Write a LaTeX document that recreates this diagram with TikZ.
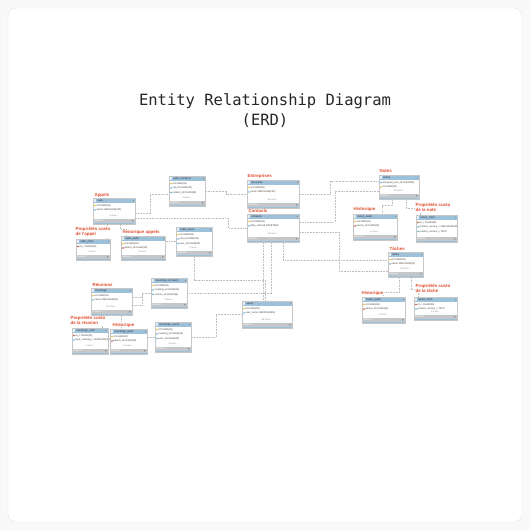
\documentclass[tikz,border=0pt]{standalone}
\usepackage{fontspec}
\setmainfont{Liberation Sans}
\newfontfamily\titlefont{DejaVu Sans Mono}
\definecolor{headblue}{RGB}{157,192,219}
\definecolor{footgray}{RGB}{196,199,202}
\definecolor{labelred}{RGB}{226,76,44}
\definecolor{keyc}{RGB}{238,190,40}
\definecolor{fkc}{RGB}{210,64,48}
\definecolor{colc}{RGB}{90,175,215}
\tikzset{
  tablebox/.style={fill=white, inner sep=0pt, outer sep=0pt},
  tabletitle/.style={font=\fontsize{2.8}{3}\selectfont, text=black!80, inner sep=0pt},
  fieldtext/.style={font=\fontsize{2.5}{3}\selectfont, text=black!75, inner sep=0pt},
  moretext/.style={font=\fontsize{2.3}{3}\selectfont, text=black!45, inner sep=0pt},
  tlabel/.style={font=\bfseries\fontsize{4.4}{5}\selectfont, text=labelred, fill=white, inner sep=0.4pt, align=left},
  rel/.style={draw=gray!50, dash pattern=on 1.8pt off 1pt, line width=0.5pt}
}
% #1 node name, #2 top left, #3 width, #4 height, #5 title, #6 rows, #7 more
\newcommand{\erdtable}[7]{%
  \begin{scope}[shift={(#2)}]
    \node[tablebox, minimum width=#3pt, minimum height=#4pt, anchor=north west] (#1) at (0,0) {};
    \fill[headblue] (0,0) rectangle (#3,5);
    \fill[white!70!headblue] (1,1.3) rectangle (3.4,3.7);
    \fill[black!45] (#3-2.4,2) rectangle (#3-1.2,3);
    \node[tabletitle, anchor=west] at (4.2,2.5) {#5};
    \foreach \ic/\txt [count=\i] in {#6} {
      \pgfmathsetmacro{\ry}{5+4.5*\i-2}
      \fill[\ic] (2,\ry-0.9) -- (2.9,\ry) -- (2,\ry+0.9) -- (1.1,\ry) -- cycle;
      \node[fieldtext, anchor=west] at (3.4,\ry) {\txt};
    }
    \node[moretext] at (#3/2,#4-8) {#7};
    \fill[footgray] (0,#4-5.5) rectangle (#3,#4-0.8);
    \fill[headblue] (0,#4-0.8) rectangle (#3,#4);
    \node[fieldtext, text=white, anchor=west] at (1.2,#4-3.2) {Indexes};
    \fill[black!55] (#3-2.6,#4-4) -- (#3-1.3,#4-3.2) -- (#3-2.6,#4-2.4) -- cycle;
    \draw[black!22, line width=0.3pt] (0,0) rectangle (#3,#4);
  \end{scope}
}

\begin{document}
\begin{tikzpicture}[x=1pt, y=-1pt]
  \useasboundingbox (0,0) rectangle (530,530);
  \fill[gray!5] (0,0) rectangle (530,530);
  \filldraw[fill=white, draw=gray!22, rounded corners=8] (8,8) rectangle (522,522);

  \node[align=center, font=\titlefont\fontsize{15.5}{20}\selectfont, text=black!85] (title) at (265,111)
    {Entity Relationship Diagram\\(ERD)};

  \erdtable{callscontacts}{169,176}{36}{30}{calls\_contacts}
    {keyc/id CHAR(36), colc/call\_id CHAR(36), colc/contact\_id CHAR(36)}{3 more...}
  \erdtable{calls}{93,198}{42}{26}{calls}
    {keyc/id CHAR(36), colc/name VARCHAR(255)}{3 more...}
  \erdtable{callscstm}{76,239}{34}{21}{calls\_cstm}
    {fkc/id\_c CHAR(36)}{1 more...}
  \erdtable{callsaudit}{121,236}{44}{24}{calls\_audit}
    {keyc/id CHAR(36), fkc/parent\_id CHAR(36)}{8 more...}
  \erdtable{callsusers}{176,227}{36}{29}{calls\_users}
    {keyc/id CHAR(36), colc/call\_id CHAR(36), colc/user\_id CHAR(36)}{3 more...}
  \erdtable{accounts}{247,180}{52}{28}{accounts}
    {keyc/id CHAR(36), colc/name VARCHAR(150)}{56 more...}
  \erdtable{contacts}{247,214}{52}{28}{contacts}
    {keyc/id CHAR(36), colc/date\_entered DATETIME}{58 more...}
  \erdtable{notes}{379,175}{40}{24}{notes}
    {colc/assigned\_user\_id CHAR(36), keyc/id CHAR(36)}{15 more...}
  \erdtable{notesaudit}{353,214}{44}{26}{notes\_audit}
    {keyc/id CHAR(36), fkc/parent\_id CHAR(36)}{8 more...}
  \erdtable{notescstm}{416,215}{41}{27}{notes\_cstm}
    {fkc/id\_c CHAR(36), colc/product\_service\_c VARCHAR(255), colc/product\_service\_c TEXT}{}
  \erdtable{tasks}{388,252}{35}{25}{tasks}
    {keyc/id CHAR(36), colc/name VARCHAR(50)}{18 more...}
  \erdtable{tasksaudit}{362,297}{43}{26}{tasks\_audit}
    {keyc/id CHAR(36), fkc/parent\_id CHAR(36)}{8 more...}
  \erdtable{taskscstm}{414,297}{43}{23}{tasks\_cstm}
    {fkc/id\_c CHAR(36), colc/product\_service\_c TEXT}{1 more...}
  \erdtable{meetings}{91,288}{41}{27}{meetings}
    {keyc/id CHAR(36), colc/name VARCHAR(50)}{26 more...}
  \erdtable{meetingscontacts}{151,278}{36}{30}{meetings\_contacts}
    {keyc/id CHAR(36), colc/meeting\_id CHAR(36), colc/contact\_id CHAR(36)}{3 more...}
  \erdtable{meetingscstm}{72,328}{36}{26}{meetings\_cstm}
    {fkc/id\_c CHAR(36), colc/time\_meeting\_c VARCHAR(255)}{1 more...}
  \erdtable{meetingsaudit}{110,329}{37}{25}{meetings\_audit}
    {keyc/id CHAR(36), fkc/parent\_id CHAR(36)}{8 more...}
  \erdtable{meetingsusers}{155,322}{36}{30}{meetings\_users}
    {keyc/id CHAR(36), colc/meeting\_id CHAR(36), colc/user\_id CHAR(36)}{3 more...}
  \erdtable{users}{242,301}{50}{27}{users}
    {keyc/id CHAR(36), colc/user\_name VARCHAR(60)}{48 more...}

  \draw[rel] ([yshift=-15pt]calls.north east) -- ++(15,0) |- ([yshift=-18pt]callscontacts.north west);
  \draw[rel] ([yshift=-20pt]calls.north east) -- ++(93,0) |- ([yshift=-14pt]contacts.north west);
  \draw[rel] ([yshift=-15pt]callscontacts.north east) -- ++(21,0) |- ([yshift=-14pt]accounts.north west);
  \draw[rel] ([xshift=-7pt]calls.south) -- ([xshift=-7pt]calls.south |- callscstm.north);
  \draw[rel] ([xshift=6pt]calls.south) -- ++(0,5) -| ([xshift=5pt]callsaudit.north west);
  \draw[rel] (callsusers.west) -- (callsusers.west -| callsaudit.east);
  \draw[rel] (callsusers.south) -- ++(0,24) -| ([xshift=-2pt]users.north);
  \draw[rel] ([xshift=-10pt]contacts.south) -- ([xshift=-10pt]contacts.south |- users.north);
  \draw[rel] ([xshift=-2pt]contacts.south) |- ([yshift=-15pt]meetingscontacts.north east);
  \draw[rel] ([xshift=10pt]contacts.south) |- ([yshift=-8pt]tasks.north west);
  \draw[rel] ([yshift=-18pt]contacts.north east) -- ++(40,0) |- ([yshift=-19pt]tasks.north west);
  \draw[rel] ([yshift=-8pt]contacts.north east) -- ++(36,0) |- ([yshift=-16pt]notes.north west);
  \draw[rel] ([yshift=-14pt]accounts.north east) -- ++(31,0) |- ([yshift=-6pt]notes.north west);
  \draw[rel] ([xshift=-7pt]notes.south) -- ++(0,6) -| ([xshift=29pt]notesaudit.north west);
  \draw[rel] ([xshift=7pt]notes.south) -- ++(0,9) -| ([xshift=4pt]notescstm.north west);
  \draw[rel] ([xshift=-6pt]tasks.south) -- ++(0,15) -| ([xshift=21pt]tasksaudit.north west);
  \draw[rel] ([xshift=6pt]tasks.south) -- ++(0,12) -| ([xshift=4pt]taskscstm.north west);
  \draw[rel] ([yshift=-9pt]meetings.north east) -- ++(10,0) |- ([yshift=-15pt]meetingscontacts.north west);
  \draw[rel] ([yshift=-17pt]meetings.north east) -- ++(10,0) |- ([yshift=-15pt]meetingscontacts.north west);
  \draw[rel] ([xshift=-9pt]meetings.south) -- ([xshift=-9pt]meetings.south |- meetingscstm.north);
  \draw[rel] ([xshift=10pt]meetings.south) -- ([xshift=10pt]meetings.south |- meetingsaudit.north);
  \draw[rel] (meetingsusers.west) -- (meetingsusers.west -| meetingsaudit.east);
  \draw[rel] (meetingsusers.east) -- ++(25,0) |- ([yshift=-13pt]users.north west);

  \node[tlabel, anchor=west] (lblcalls) at (94,195) {Appels};
  \node[tlabel, anchor=north west] (lblcallscstm) at (75,227) {Propriétés custo\\de l'appel};
  \node[tlabel, anchor=west] (lblcallsaudit) at (122,232) {Historique appels};
  \node[tlabel, anchor=west] (lblaccounts) at (247,176) {Entreprises};
  \node[tlabel, anchor=west] (lblcontacts) at (248,210.5) {Contacts};
  \node[tlabel, anchor=west] (lblnotes) at (379,171) {Notes};
  \node[tlabel, anchor=west] (lblnotesaudit) at (353,209) {Historique};
  \node[tlabel, anchor=north west] (lblnotescstm) at (415,203) {Propriétés custo\\de la note};
  \node[tlabel, anchor=west] (lbltasks) at (389,248.5) {Tâches};
  \node[tlabel, anchor=west] (lbltasksaudit) at (361,293) {Historique};
  \node[tlabel, anchor=north west] (lbltaskscstm) at (415,284) {Propriétés custo\\de la tâche};
  \node[tlabel, anchor=west] (lblmeetings) at (92,285) {Réunions};
  \node[tlabel, anchor=north west] (lblmeetingscstm) at (70,316) {Propriétés custo\\de la réunion};
  \node[tlabel, anchor=west] (lblmeetingsaudit) at (112,325) {Historique};
\end{tikzpicture}
\end{document}
